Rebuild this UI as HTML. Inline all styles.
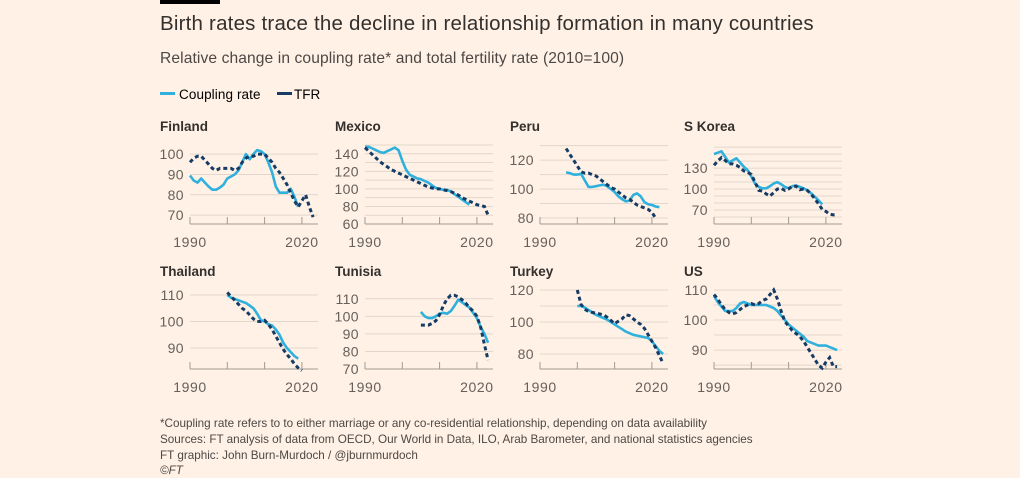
<!DOCTYPE html>
<html><head><meta charset="utf-8">
<style>
body{margin:0;background:#fff1e5;width:1020px;height:478px;overflow:hidden;font-family:"Liberation Sans",sans-serif;color:#33302e}
svg{position:absolute;left:0;top:0}
</style></head>
<body>
<svg id="chart" width="1020" height="478">
<rect x="160" y="0" width="60" height="4" fill="#000"/>
<text x="160" y="30" font-size="20.5" letter-spacing="0.2" fill="#33302e">Birth rates trace the decline in relationship formation in many countries</text>
<text x="160" y="63" font-size="15.6" letter-spacing="0.1" fill="#4d4845">Relative change in coupling rate* and total fertility rate (2010=100)</text>
<g>
<g><rect x="160" y="92" width="15" height="3" fill="#2fb0dd"/><text x="179" y="99" font-size="13.5" letter-spacing="0.1">Coupling rate</text></g>
<g><rect x="277" y="92" width="15" height="3" fill="#163c66"/><text x="294" y="99" font-size="13.5">TFR</text></g>
</g>
<g font-size="11.7" fill="#4d4845">
<text x="160" y="427">*Coupling rate refers to to either marriage or any co-residential relationship, depending on data availability</text>
<text x="160" y="443">Sources: FT analysis of data from OECD, Our World in Data, ILO, Arab Barometer, and national statistics agencies</text>
<text x="160" y="459">FT graphic: John Burn-Murdoch / @jburnmurdoch</text>
<text x="160" y="474" font-style="italic">©FT</text>
</g>
<g id="panels"></g>
</svg>
<script>
const countries = ["Finland","Mexico","Peru","S Korea","Thailand","Tunisia","Turkey","US"];
const yDomains = [[65.6,104.5],[60,150],[75.9,130.4],[50,163],[82.1,111.9],[70,115],[70.6,120],[83.7,110]];
const yTicks = [[70,80,90,100],[60,80,100,120,140],[80,100,120],[70,100,130],[90,100,110],[70,80,90,100,110],[80,100,120],[90,100,110]];
const gridStep = [10,10,10,10,10,10,10,5];
const xTickLabels = ["1990","2020"];
const couplingStart = [1990,1990,1997,1990,2000,2005,2000,1990];
const tfrStart = [1990,1990,1997,1990,2000,2005,2000,1990];
const couplingFinland = [89.5,87,86,88,86,84,82.5,82.5,83.5,85,88,89,90,92,96,100,97.5,100,102,101.5,100,96,91,84,81,81,81,83,79,74];
const tfrFinland = [96,98,99,99,97,95,93,92,93,93,93,93,92,93,96,98,99,99,100,100,100,98,96,93,91,88,85,81,77,74,77,80,74,69];
const couplingMexico = [148,148,146,144,142,141,143,145,147,144,132,122,116,114,112,111,109,107,104,101,100,99,99,97,94,91,88,85,82];
const tfrMexico = [147,143,139,135,131,128,125,122,120,118,116,114,112,110,108,106,104,102,101,100,100,99,98,97,95,93,90,88,86,84,82,81,80,70];
const couplingPeru = [111.5,111,110,110,110.5,106,101.5,101.5,102,102.5,103,102,100,98,95,93,91.5,92,96,97,95,91,89.5,89,88,87.5];
const tfrPeru = [128,124,120,116,112,111,111,110,109,107,105,103,101,100,98,96,94,93,91,89,88,87,86,84,80];
const couplingKorea = [150,152,154,146,138,141,144,138,132,127,118,108,103,101,101,104,108,110,107,103,101,104,105,103,101,98,94,89,84,78];
const tfrKorea = [134,140,145,141,136,136,134,131,126,124,121,110,98,97,93,90,95,100,101,98,100,104,104,99,100,98,93,86,79,71,68,64,63,63];
const couplingThailand = [110,109,108.5,108,107.5,107,106,105,103,100.5,100,99,98.5,97,95,92,90,88.5,87,86];
const tfrThailand = [111,109.5,108,106.5,105,104,102.5,101,100,100,100.5,99,97,94.5,92,89.5,87.5,86,84,82.5,81.5];
const couplingTunisia = [102.5,100,99,99,100,101.5,102,101.5,103,106,109.5,108,106.5,105,102,99,94,90,85];
const tfrTunisia = [95,95,95,96,97.5,101,106,110,112,112,111,109.5,107.5,105,103,100,94,84,75];
const couplingTurkey = [110,110,109,107.5,106,104.5,103.5,102.5,101.5,100,98.5,97,95.5,94,93,92,91.5,91,90.5,90,88,85,82,80];
const tfrTurkey = [120,111,108,106.5,106,105.5,105,104.5,103,101,99,100.5,102,104.5,104,102,100,98.5,96,92,88,84,79,74];
const couplingUS = [108,106,104.5,103,103,103,104,105.5,106,105.5,105,105,105,105,105,104.5,104,103,101.5,100,98.5,97.5,96.5,95.5,94.5,93,92.5,92,91.5,91.5,91.5,91,90.5,90];
const tfrUS = [108.5,107,105,103.5,102.5,102,102.5,103.5,104.5,105,105.5,105,105.5,106.5,107,108.5,110,107,103,99.5,98,96.5,95.5,94.5,93,91,89,87,85,84,86,87.5,84.5,84.5];
const couplingSeries = [couplingFinland,couplingMexico,couplingPeru,couplingKorea,couplingThailand,couplingTunisia,couplingTurkey,couplingUS];
const tfrSeries = [tfrFinland,tfrMexico,tfrPeru,tfrKorea,tfrThailand,tfrTunisia,tfrTurkey,tfrUS];

const NS="http://www.w3.org/2000/svg";
const root=document.getElementById('panels');
const colX=[190,365,540,714], rowTop=[145,290], H=79, W=128, PPY=3.73;
function mk(tag,attrs,parent){const e=document.createElementNS(NS,tag);for(const k in attrs)e.setAttribute(k,attrs[k]);parent.appendChild(e);return e;}
countries.forEach((name,i)=>{
  const x0=colX[i%4], top=rowTop[Math.floor(i/4)], base=top+H;
  const [lo,hi]=yDomains[i];
  const xs=yr=>x0+(yr-1990)*PPY;
  const ys=v=>base-(v-lo)/(hi-lo)*H;
  const slug=name.toLowerCase().replace(/\s+/g,'-');
  const g=mk('g',{},root);
  
  
  const t=mk('text',{x:x0-30,y:top-14,'font-size':13.5,'font-weight':'bold',fill:'#33302e'},g);
  t.textContent=name;
  
  
  const step=gridStep[i];
  for(let v=Math.ceil(lo/step)*step; v<=hi; v+=step){
    const y=ys(v); if(base-y<2) continue;
    const l=mk('line',{x1:x0,x2:x0+W,y1:y,y2:y,stroke:'#e3d6cb','stroke-width':1},g);
    
    
  }
  yTicks[i].forEach(v=>{
    const tx=mk('text',{x:x0-6,y:ys(v)+5,'font-size':14,'letter-spacing':0.4,fill:'#66605c','text-anchor':'end'},g);
    tx.textContent=v;
    
    
  });
  const ax=mk('line',{x1:x0,x2:x0+W,y1:base,y2:base,stroke:'#a29a94','stroke-width':1},g);
  
  
  [1990,2000,2010,2020].forEach(yr=>{
    const tk=mk('line',{x1:xs(yr),x2:xs(yr),y1:base-7,y2:base,stroke:'#a29a94','stroke-width':1},g);
    
    
  });
  xTickLabels.forEach(lb=>{
    const tx=mk('text',{x:xs(+lb),y:base+23,'font-size':14,'letter-spacing':0.6,fill:'#66605c','text-anchor':'middle'},g);
    tx.textContent=lb;
    
    
  });
  const pts=(arr,s)=>arr.map((v,k)=>xs(s+k).toFixed(1)+','+ys(v).toFixed(1)).join(' ');
  const c=mk('polyline',{points:pts(couplingSeries[i],couplingStart[i]),fill:'none',stroke:'#2fb0dd','stroke-width':2.6,'stroke-linejoin':'round'},g);
  
  
  const d=mk('polyline',{points:pts(tfrSeries[i],tfrStart[i]),fill:'none',stroke:'#163c66','stroke-width':3,'stroke-dasharray':'4 3'},g);
  
  
});
</script>
</body></html>
